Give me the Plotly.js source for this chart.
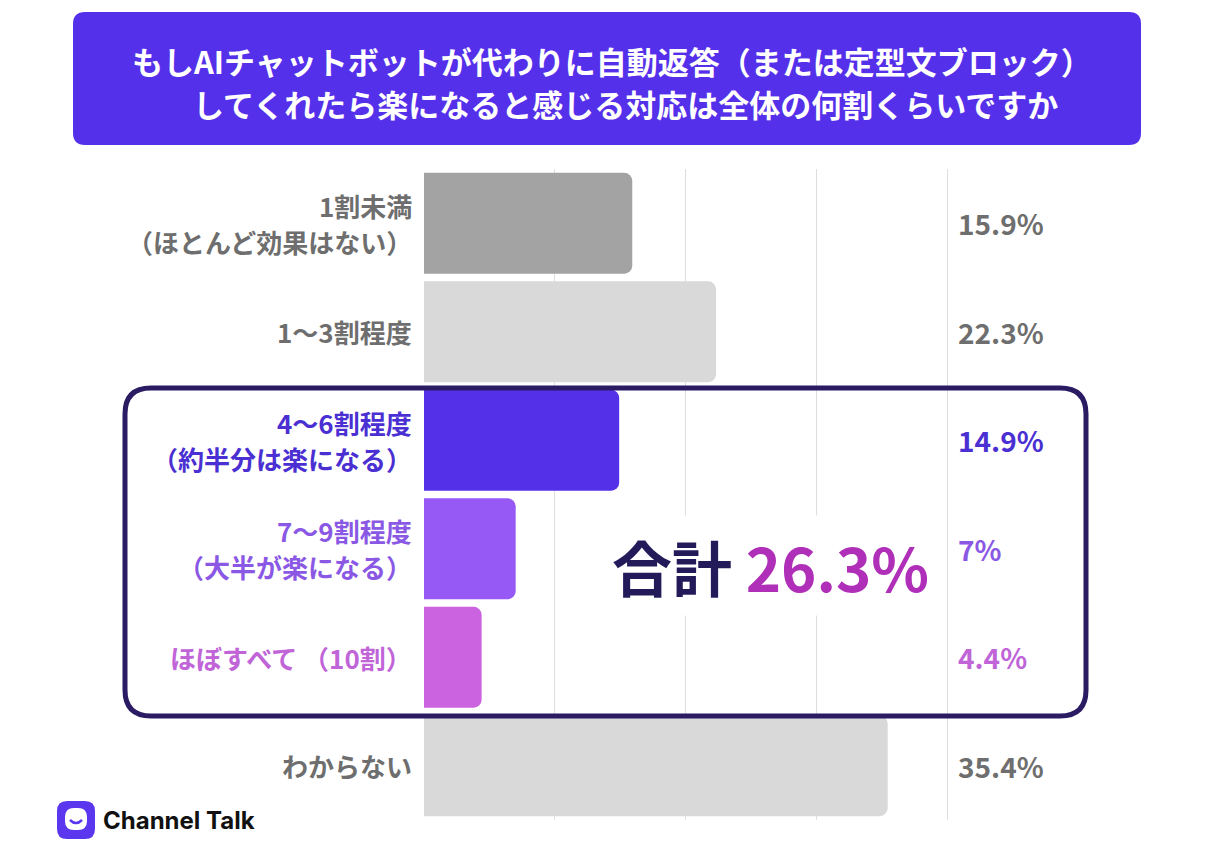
<!DOCTYPE html>
<html>
<head>
<meta charset="utf-8">
<script src="https://cdn.plot.ly/plotly-3.0.1.min.js"></script>
<style>
  body { margin: 0; background: #ffffff; }
  #chart { width: 1212px; height: 864px; }
</style>
</head>
<body>
<div id="chart"></div>
<script>
// survey answers, top to bottom
var categories = [
    '1割未満\n（ほとんど効果はない）',
    '1～3割程度',
    '4～6割程度\n（約半分は楽になる）',
    '7～9割程度\n（大半が楽になる）',
    'ほぼすべて （10割）',
    'わからない'
];
var percents = [15.9, 22.3, 14.9, 7, 4.4, 35.4];
var valueLabels = ['15.9%', '22.3%', '14.9%', '7%', '4.4%', '35.4%'];
var totalLabel = '26.3%';

var barColors = ['#a3a3a3', '#d9d9d9', '#5430e9', '#9759f6', '#cb62e0', '#d9d9d9'];
var textColors = ['#6e6e6e', '#6e6e6e', '#4a2fd2', '#8a58e4', '#c064d8', '#6e6e6e'];

var FONT = '"Noto Sans CJK JP", "Noto Sans", sans-serif';

// plot area in pixels
var L = 424, R = 949, T = 169, B = 820;
function px(x) { return (x - L) / (R - L); }
function py(y) { return (B - y) / (B - T); }

// rounded rectangle path in paper units from pixel box
function roundRect(x0, y0, x1, y1, r) {
    var a = px(x0), b = px(x1), c = py(y0), d = py(y1);
    var rx = r / (R - L), ry = r / (B - T);
    return 'M ' + (a + rx) + ',' + c +
        ' L ' + (b - rx) + ',' + c +
        ' Q ' + b + ',' + c + ' ' + b + ',' + (c - ry) +
        ' L ' + b + ',' + (d + ry) +
        ' Q ' + b + ',' + d + ' ' + (b - rx) + ',' + d +
        ' L ' + (a + rx) + ',' + d +
        ' Q ' + a + ',' + d + ' ' + a + ',' + (d + ry) +
        ' L ' + a + ',' + (c - ry) +
        ' Q ' + a + ',' + c + ' ' + (a + rx) + ',' + c + ' Z';
}

var trace = {
    type: 'bar',
    orientation: 'h',
    y: categories,
    x: percents,
    marker: {
        color: barColors,
        cornerradius: 8,
        line: { width: 0 }
    },
    hoverinfo: 'skip'
};

var annotations = [];

// category labels on the left, one annotation per line
for (var i = 0; i < categories.length; i++) {
    var lines = categories[i].split('\n');
    for (var j = 0; j < lines.length; j++) {
        annotations.push({
            xref: 'paper', yref: 'y',
            x: 0, y: categories[i],
            xanchor: 'right', yanchor: 'middle',
            xshift: -10,
            yshift: (lines.length - 1) * 18 - j * 36,
            text: lines[j],
            showarrow: false,
            font: { family: FONT, size: 26, color: textColors[i], weight: 700 }
        });
    }
    // values on the right
    annotations.push({
        xref: 'paper', yref: 'y',
        x: 1, y: categories[i],
        xanchor: 'left', yanchor: 'middle',
        xshift: 7,
        text: valueLabels[i],
        showarrow: false,
        font: { family: FONT, size: 28, color: textColors[i], weight: 700 }
    });
}

// total of the highlighted group
annotations.push({
    xref: 'paper', yref: 'paper',
    x: px(770), y: py(565),
    xanchor: 'center', yanchor: 'middle',
    text: '<span style="color:#231a5a">合計</span> <span style="color:#b02fb8">' + totalLabel + '</span>',
    showarrow: false,
    bgcolor: '#ffffff',
    borderpad: 6,
    font: { family: FONT, size: 60, weight: 700 }
});

// title lines
annotations.push({
    xref: 'paper', yref: 'paper',
    x: px(612), y: py(60),
    xanchor: 'center', yanchor: 'middle',
    text: 'もしAIチャットボットが代わりに自動返答（または定型文ブロック）',
    showarrow: false,
    font: { family: FONT, size: 31, color: '#ffffff', weight: 700 }
});
annotations.push({
    xref: 'paper', yref: 'paper',
    x: px(625), y: py(103),
    xanchor: 'center', yanchor: 'middle',
    text: 'してくれたら楽になると感じる対応は全体の何割くらいですか',
    showarrow: false,
    font: { family: FONT, size: 31, color: '#ffffff', weight: 700 }
});

// logo text
annotations.push({
    xref: 'paper', yref: 'paper',
    x: px(101), y: py(820),
    xanchor: 'left', yanchor: 'middle',
    text: 'Channel Talk',
    showarrow: false,
    font: { family: 'Inter, "Noto Sans", sans-serif', size: 24, color: '#111111', weight: 700 }
});

var shapes = [
    // title box
    {
        type: 'path', xref: 'paper', yref: 'paper', layer: 'below',
        path: roundRect(73, 12, 1141, 145, 12),
        fillcolor: '#5530ea', line: { width: 0 }
    },
    // highlight frame
    {
        type: 'path', xref: 'paper', yref: 'paper', layer: 'above',
        path: roundRect(125, 388, 1086, 716, 26),
        fillcolor: 'rgba(0,0,0,0)', line: { color: '#2a1b62', width: 5 }
    },
    // logo icon
    {
        type: 'path', xref: 'paper', yref: 'paper', layer: 'above',
        path: roundRect(57, 801, 95, 839, 10),
        fillcolor: '#5a37ee', line: { width: 0 }
    },
    {
        type: 'path', xref: 'paper', yref: 'paper', layer: 'above',
        path: roundRect(65, 808, 87, 830, 9),
        fillcolor: '#ffffff', line: { width: 0 }
    },
    {
        type: 'path', xref: 'paper', yref: 'paper', layer: 'above',
        path: 'M ' + px(70) + ',' + py(820) + ' Q ' + px(76) + ',' + py(826) + ' ' + px(82) + ',' + py(820),
        line: { color: '#5a37ee', width: 2.5 }
    }
];

var layout = {
    width: 1212,
    height: 864,
    margin: { l: L, r: 1212 - R, t: T, b: 864 - B, pad: 0 },
    paper_bgcolor: '#ffffff',
    plot_bgcolor: '#ffffff',
    showlegend: false,
    bargap: 0.07,
    font: { family: FONT },
    xaxis: {
        range: [0, 40.08],
        tickvals: [10, 20, 30, 40],
        showgrid: true,
        gridcolor: '#dedede',
        gridwidth: 1,
        zeroline: false,
        showticklabels: false,
        showline: false,
        fixedrange: true
    },
    yaxis: {
        autorange: 'reversed',
        showticklabels: false,
        showgrid: false,
        zeroline: false,
        showline: false,
        fixedrange: true
    },
    annotations: annotations,
    shapes: shapes
};

Plotly.newPlot('chart', [trace], layout, { displayModeBar: false, staticPlot: true });
</script>
</body>
</html>
